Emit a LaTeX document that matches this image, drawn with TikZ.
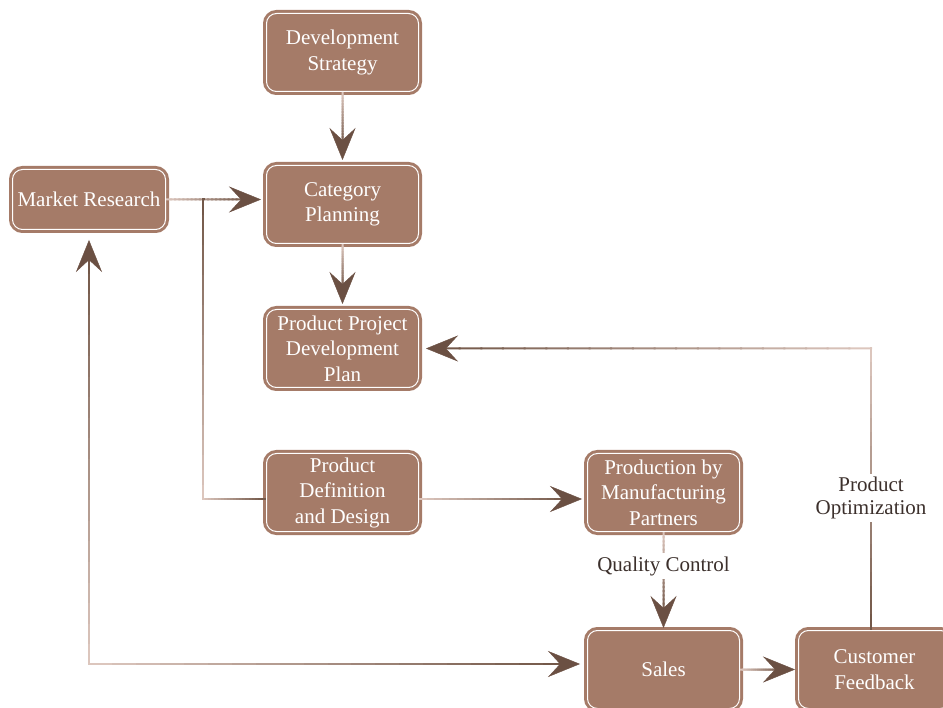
\documentclass[tikz,border=0pt]{standalone}
\usepackage{fontspec}
\setmainfont{Liberation Serif}
\usetikzlibrary{arrows.meta,calc}
\definecolor{boxbrown}{HTML}{A57B68}
\definecolor{tipbrown}{HTML}{6B5043}
\definecolor{llight}{HTML}{DCC6BD}
\definecolor{ldark}{HTML}{735849}
\definecolor{labeltext}{HTML}{3C302C}
% gradient segment: light at #1, dark at #2
\newcommand\gradseg[2]{%
  \foreach \i in {0,...,19}{%
    \pgfmathsetmacro\mixv{100*\i/19}%
    \draw[gline, color=ldark!\mixv!llight] ($(#1)!\i/20!(#2)$) -- ($(#1)!\i/20+0.05!(#2)$);
  }}
% gradient arrow: light at #1, tip at #2
\newcommand\gradarrow[2]{%
  \gradseg{#1}{$(#2)!12pt!(#1)$}%
  \draw[tipline] ($(#2)!16pt!(#1)$) -- (#2);
}
\begin{document}
\begin{tikzpicture}[x=1pt,y=-1pt,
  box/.style={rectangle, rounded corners=10pt, fill=boxbrown, draw=boxbrown,
    double=white, double distance=1pt, line width=3pt,
    minimum width=152pt, minimum height=78pt, align=center, text=white,
    font=\fontsize{21}{25.5}\selectfont, inner sep=2pt},
  gline/.style={line width=2pt, line cap=rect},
  tipline/.style={draw=ldark, line width=2pt,
    -{Stealth[length=32pt,width=26pt,inset=12pt,color=tipbrown,line width=0.4pt]}},
  lab/.style={fill=white, text=labeltext, align=center, inner sep=3pt,
    font=\fontsize{21}{23}\selectfont}]
\useasboundingbox (0,0) rectangle (943,708);

\node[box] (ds) at (342.5,52.5) {Development\\Strategy};
\node[box] (cp) at (342.5,204.5) {Category\\Planning};
\node[box] (pp) at (342.5,348.5) {Product Project\\Development\\Plan};
\node[box, minimum width=153pt, minimum height=60pt] (mr) at (89,199.5) {Market Research};
\node[box] (pdd) at (342.5,492.5) {Product\\Definition\\and Design};
\node[box] (pm) at (663.5,492.5) {Production by\\Manufacturing\\Partners};
\node[box] (sales) at (663.5,669.5) {Sales};
\node[box] (cf) at (874.5,669.5) {Customer\\Feedback};

% Development Strategy -> Category Planning
\coordinate (s1) at (ds.south);
\coordinate (e1) at ($(cp.north)+(0,-4)$);
\gradarrow{s1}{e1}
% Category Planning -> Product Project Development Plan
\coordinate (s2) at (cp.south);
\coordinate (e2) at ($(pp.north)+(0,-4)$);
\gradarrow{s2}{e2}
% Market Research -> Category Planning
\coordinate (s3) at (mr.east);
\coordinate (e3) at ($(mr.east -| cp.west)+(-4,0)$);
\gradarrow{s3}{e3}
% branch to Product Definition and Design
\coordinate (j) at (203,199.5);
\coordinate (e4) at ($(pdd.west)+(0,6.5)$);
\coordinate (c4) at (j |- e4);
\gradseg{c4}{j}
\gradseg{c4}{e4}
\fill[ldark] (j) ++(-1.5,-1) rectangle ++(3,2);
% Product Definition -> Production
\coordinate (s5) at ($(pdd.east)+(0,6.5)$);
\coordinate (e5) at ($(pm.west)+(-4,6.5)$);
\gradarrow{s5}{e5}
% Production -> Sales (Quality Control)
\coordinate (s6) at (pm.south);
\coordinate (e6) at ($(sales.north)+(0,-1)$);
\gradarrow{s6}{e6}
\node[lab] (qc) at ($(s6)+(0,33)$) {Quality Control};
% Sales <-> Market Research
\coordinate (e7b) at ($(sales.west)+(-6,-5.5)$);
\coordinate (e7a) at ($(mr.south)+(0,9)$);
\coordinate (c7) at (e7a |- e7b);
\gradarrow{c7}{e7a}
\gradarrow{c7}{e7b}
% Sales -> Customer Feedback
\coordinate (s8) at (sales.east);
\coordinate (e8) at ($(cf.west)+(-2,0)$);
\gradarrow{s8}{e8}
% Customer Feedback -> Product Project Development Plan
\coordinate (s9) at ($(cf.north)+(-3.5,0)$);
\coordinate (e9) at ($(pp.east)+(6,0)$);
\coordinate (c9) at (s9 |- e9);
\gradseg{c9}{s9}
\gradarrow{c9}{e9}
\node[lab] (po) at ($(c9)!0.533!(s9)$) {Product\\Optimization};
\end{tikzpicture}
\end{document}
